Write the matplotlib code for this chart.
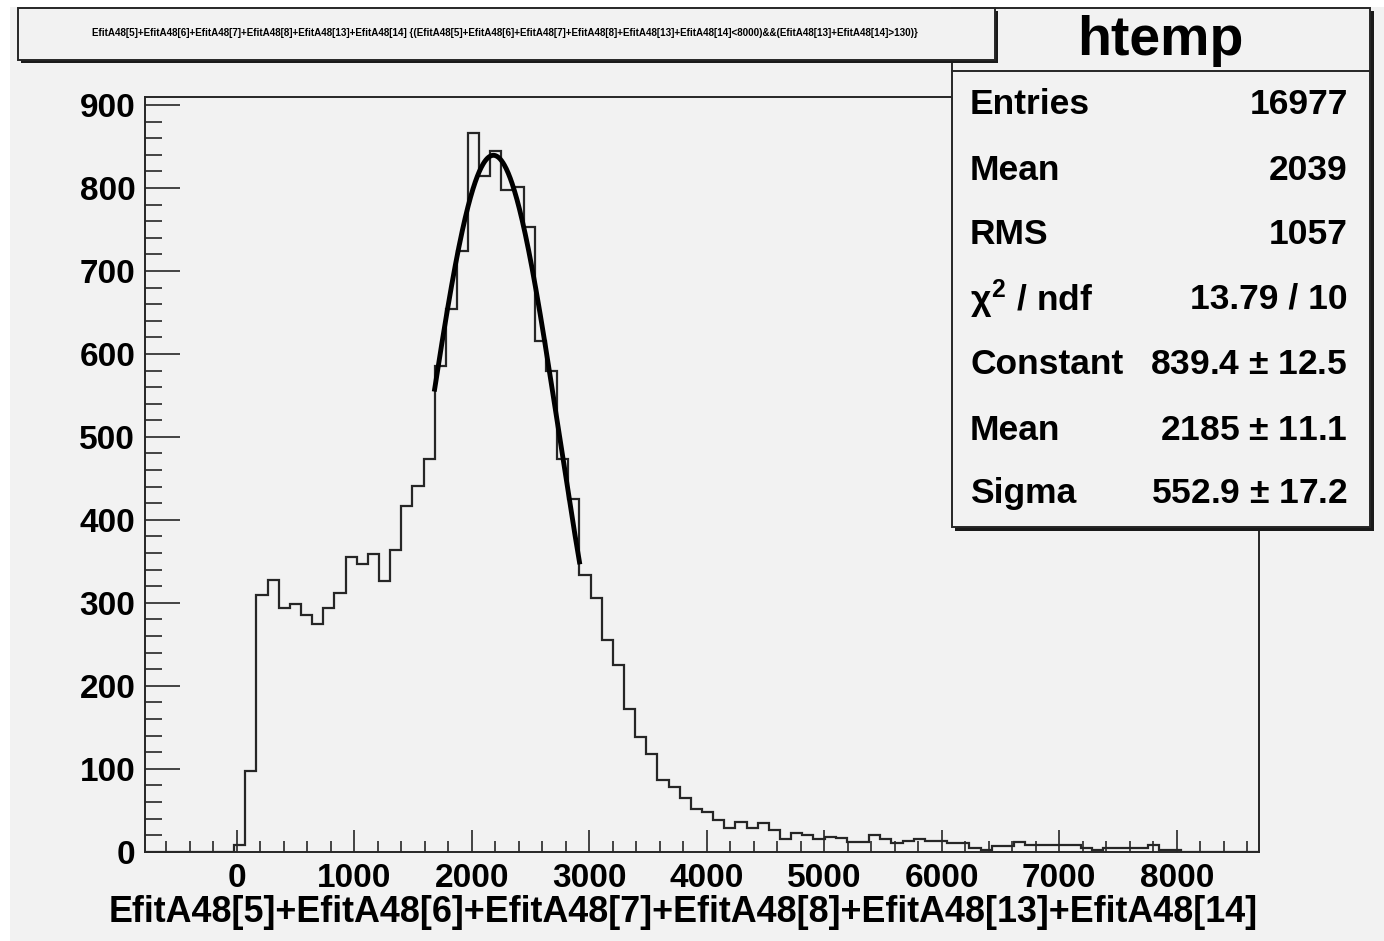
import numpy as np
import matplotlib.pyplot as plt
from matplotlib.patches import Rectangle

# histogram: 100 bins over the axis range
x_min, x_max, n_bins = -780, 8700, 100
counts = [0, 0, 0, 0, 0, 0, 0, 0, 8, 97,
          309, 328, 294, 299, 285, 275, 294, 312, 355, 347,
          359, 326, 364, 417, 441, 473, 585, 654, 724, 866,
          815, 845, 797, 801, 753, 615, 580, 473, 425, 334,
          306, 255, 225, 172, 138, 118, 87, 78, 65, 51,
          48, 38, 29, 36, 29, 34, 26, 15, 22, 20,
          15, 18, 17, 12, 12, 20, 15, 11, 13, 15,
          13, 13, 10, 11, 5, 2, 7, 7, 12, 8,
          8, 8, 8, 8, 5, 2, 4, 4, 4, 4,
          8, 2, 2, 0, 0, 0, 0, 0, 0, 0]

# gaussian fit result (from stats box)
fit_const, fit_mean, fit_sigma = 839.4, 2185, 552.9
fit_lo_bin, fit_hi_bin = 26, 39

stat_labels = ["Entries", "Mean", "RMS", r"$\chi^2$ / ndf", "Constant", "Mean", "Sigma"]
stat_values = ["16977", "2039", "1057", "13.79 / 10", "839.4 $\\pm$ 12.5",
               "2185 $\\pm$ 11.1", "552.9 $\\pm$ 17.2"]

varexp = "EfitA48[5]+EfitA48[6]+EfitA48[7]+EfitA48[8]+EfitA48[13]+EfitA48[14]"
title = (varexp + " {(" + varexp + "<8000)&&(EfitA48[13]+EfitA48[14]>130)}")

W, H = 1384, 941
bg = "#f2f2f2"
ink = "#262626"
plt.rcParams['font.family'] = ['Liberation Sans', 'DejaVu Sans']
plt.rcParams['font.weight'] = 'bold'
plt.rcParams['mathtext.fontset'] = 'custom'
plt.rcParams['mathtext.rm'] = 'Liberation Sans'
plt.rcParams['mathtext.it'] = 'Liberation Sans'


def fx(px):
    return px / W


def fy(py):
    return 1 - py / H


fig = plt.figure(figsize=(W / 100, H / 100), dpi=100, facecolor="white")
fig.add_artist(Rectangle((fx(10), 0), 1, fy(7), transform=fig.transFigure,
                         facecolor=bg, edgecolor="none", zorder=0))

ax = fig.add_axes([fx(145), fy(851.7), fx(1259) - fx(145), fy(97.3) - fy(851.7)])
ax.set_facecolor(bg)
edges = np.linspace(x_min, x_max, n_bins + 1)
ax.stairs(counts, edges, color=ink, lw=1.6)

bw = (x_max - x_min) / n_bins
xf = np.linspace(x_min + fit_lo_bin * bw, x_min + fit_hi_bin * bw, 300)
ax.plot(xf, fit_const * np.exp(-0.5 * ((xf - fit_mean) / fit_sigma) ** 2),
        color="black", lw=3.5)

ax.set_xlim(x_min, x_max)
ax.set_ylim(0, 1.05 * max(counts))
ax.set_xticks(range(0, 8001, 1000))
ax.set_xticks(range(-600, 8700, 200), minor=True)
ax.set_yticks(range(0, 901, 100))
ax.set_yticks(range(0, 901, 20), minor=True)
ax.tick_params(axis="both", which="both", direction="in", color=ink, width=1.2,
               labelsize=24, top=False, right=False)
ax.tick_params(axis="y", which="major", length=25, pad=7)
ax.tick_params(axis="y", which="minor", length=12)
ax.tick_params(axis="x", which="major", length=16, pad=8)
ax.tick_params(axis="x", which="minor", length=8)
for lab in ax.get_xticklabels() + ax.get_yticklabels():
    lab.set_fontweight("bold")
for sp in ax.spines.values():
    sp.set_color(ink)
    sp.set_linewidth(1.4)

fig.text(fx(1258), fy(913), varexp, ha="right", va="center", fontsize=25.8,
         fontweight="bold")

# stats box
shadow = "#1a1a1a"
fig.add_artist(Rectangle((fx(955), fy(531)), fx(1374) - fx(955), fy(11) - fy(531),
                         transform=fig.transFigure, facecolor=shadow,
                         edgecolor="none", zorder=5))
fig.add_artist(Rectangle((fx(951.7), fy(527)), fx(1370) - fx(951.7), fy(8) - fy(527),
                         transform=fig.transFigure, facecolor=bg,
                         edgecolor=ink, lw=1.4, zorder=6))
fig.add_artist(plt.Line2D([fx(951.7), fx(1370)], [fy(71), fy(71)],
                          transform=fig.transFigure, color=ink, lw=1.4, zorder=7))
fig.text(fx(1160), fy(41), "htemp", ha="center", va="center", fontsize=40,
         fontweight="bold", zorder=8)
row_y = [105, 171, 235, 299, 364, 431, 494]
for lab, val, yy in zip(stat_labels, stat_values, row_y):
    fig.text(fx(970), fy(yy), lab, ha="left", va="center", fontsize=25.5,
             fontweight="bold", zorder=8)
    fig.text(fx(1348), fy(yy), val, ha="right", va="center", fontsize=25.5,
             fontweight="bold", zorder=8)

# title box
fig.add_artist(Rectangle((fx(21), fy(63)), fx(998) - fx(21), fy(11) - fy(63),
                         transform=fig.transFigure, facecolor=shadow,
                         edgecolor="none", zorder=9))
fig.add_artist(Rectangle((fx(18), fy(60)), fx(995) - fx(18), fy(8) - fy(60),
                         transform=fig.transFigure, facecolor=bg,
                         edgecolor=ink, lw=1.4, zorder=10))
fig.text(fx(505), fy(33), title, ha="center", va="center", fontsize=7.1,
         fontweight="bold", zorder=11)

fig.savefig("out.png", dpi=100, facecolor=fig.get_facecolor())
